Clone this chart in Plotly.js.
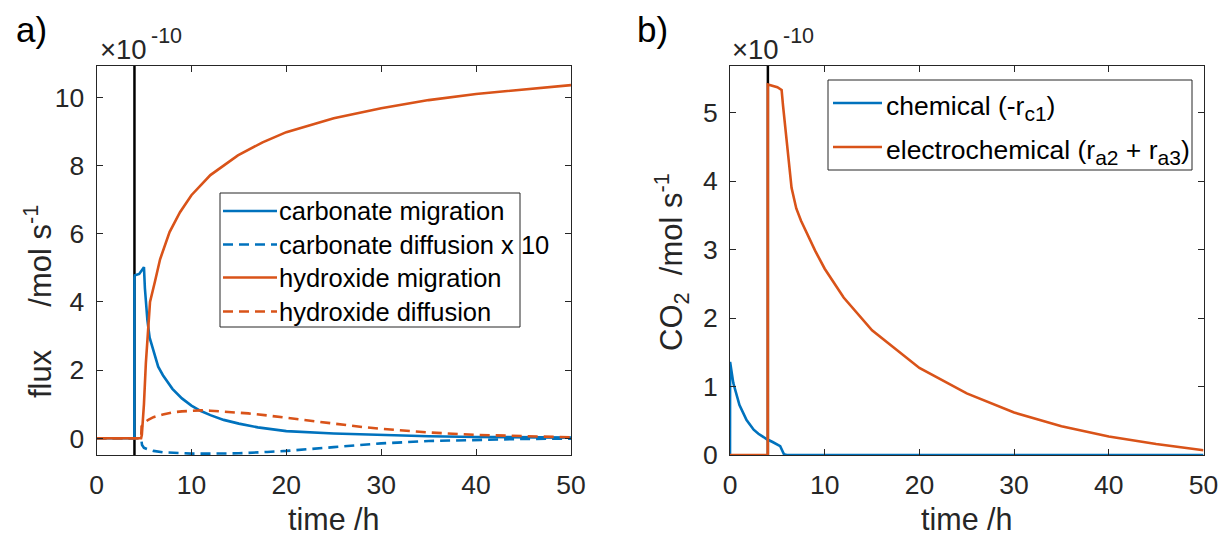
<!DOCTYPE html>
<html>
<head>
<meta charset="utf-8">
<script src="https://cdn.plot.ly/plotly-3.0.1.min.js"></script>
<style>html,body{margin:0;padding:0;background:#fff;}#chart{width:1223px;height:538px;}</style>
</head>
<body>
<div id="chart"></div>
<script>
// ---------- data (panel a: flux, units 1e-10 mol/s) ----------
const carbMigT = [0, 3.99, 4.0, 4.05, 4.5, 4.85, 5.0, 5.1, 5.36, 5.6, 6.0, 6.5, 7, 8, 9, 10, 11, 12, 13.4, 15, 17, 20, 25, 30, 35, 40, 45, 50];
const carbMigV = [0, 0, 4.7, 4.78, 4.82, 4.95, 5.02, 4.4, 3.47, 2.95, 2.55, 2.1, 1.85, 1.45, 1.17, 0.96, 0.8, 0.68, 0.54, 0.43, 0.32, 0.21, 0.14, 0.09, 0.06, 0.04, 0.03, 0.02];

const carbDifT = [0, 4.7, 4.8, 5, 5.5, 6, 7, 8, 10, 12, 15, 18, 20, 25, 30, 35, 40, 45, 50];
const carbDifV = [0, 0, -0.2, -0.28, -0.33, -0.37, -0.41, -0.43, -0.45, -0.45, -0.44, -0.4, -0.37, -0.26, -0.15, -0.08, -0.04, -0.02, -0.01];

const hydMigT = [0, 4.7, 4.78, 5.0, 5.2, 5.43, 5.64, 6.16, 6.7, 7.7, 8.8, 10, 12, 14.9, 17.5, 20, 25, 30, 35, 40, 45, 50];
const hydMigV = [0, 0, 0.1, 1.0, 2.2, 3.17, 4.0, 4.6, 5.25, 6.05, 6.63, 7.13, 7.72, 8.3, 8.68, 8.98, 9.39, 9.68, 9.92, 10.1, 10.24, 10.36];

const hydDifT = [0, 4.7, 4.75, 5, 5.5, 6, 7, 8, 9, 10, 11, 12, 14, 16, 18, 20, 22, 25, 28, 30, 35, 40, 45, 50];
const hydDifV = [0, 0, 0.35, 0.45, 0.55, 0.62, 0.7, 0.76, 0.79, 0.81, 0.82, 0.81, 0.78, 0.73, 0.67, 0.6, 0.53, 0.43, 0.33, 0.28, 0.17, 0.1, 0.06, 0.03];

// ---------- data (panel b: CO2, units 1e-10 mol/s) ----------
const chemT = [0, 0.01, 0.35, 1, 1.75, 2.5, 3, 3.9, 4.5, 5.0, 5.3, 5.5, 5.7, 6, 50];
const chemV = [0, 1.36, 1.05, 0.73, 0.51, 0.37, 0.31, 0.23, 0.19, 0.15, 0.13, 0.07, 0.01, 0, 0];

const elecT = [0, 3.99, 4.0, 4.5, 5.0, 5.45, 5.6, 6.5, 7.0, 7.5, 8, 9, 10, 12, 15, 20, 25, 30, 35, 40, 45, 50];
const elecV = [0, 0, 5.41, 5.39, 5.37, 5.33, 5.1, 3.9, 3.6, 3.42, 3.27, 2.98, 2.72, 2.3, 1.82, 1.27, 0.9, 0.62, 0.42, 0.27, 0.16, 0.07];

const eventTime = 4;           // vertical marker (h)
const xTicks = [0, 10, 20, 30, 40, 50];
const yTicksA = [0, 2, 4, 6, 8, 10];
const yTicksB = [0, 1, 2, 3, 4, 5];

const SUB = s => '<sub><span style="font-size:21px">' + s + '</span></sub>';
const namesA = ['carbonate migration', 'carbonate diffusion x 10', 'hydroxide migration', 'hydroxide diffusion'];
const namesB = ['chemical (-r' + SUB('c1') + ')', 'electrochemical (r' + SUB('a2') + ' + r' + SUB('a3') + ')'];

// ---------- style ----------
const BLUE = '#0072BD', ORANGE = '#D95319', AX = '#262626';
const FONT = 'Liberation Sans, Arial, Helvetica, sans-serif';
const LW = 2.6;
const DASH = '10px,6px';
const colorsA = [BLUE, BLUE, ORANGE, ORANGE];
const dashesA = ['solid', DASH, 'solid', DASH];
const colorsB = [BLUE, ORANGE];

const seriesA = [[carbMigT, carbMigV], [carbDifT, carbDifV], [hydMigT, hydMigV], [hydDifT, hydDifV]];
const seriesB = [[chemT, chemV], [elecT, elecV]];

const traces = [];
seriesA.forEach((s, i) => traces.push({x: s[0], y: s[1], name: namesA[i], mode: 'lines',
  line: {color: colorsA[i], width: LW, dash: dashesA[i]}, xaxis: 'x', yaxis: 'y', showlegend: false}));
seriesB.forEach((s, i) => traces.push({x: s[0], y: s[1], name: namesB[i], mode: 'lines',
  line: {color: colorsB[i], width: LW}, xaxis: 'x2', yaxis: 'y2', showlegend: false}));

const W = 1223, H = 538;
const px = v => v / W, py = v => 1 - v / H;

function axisBase(extra) {
  return Object.assign({
    showline: true, linecolor: AX, linewidth: 1, mirror: 'ticks',
    ticks: 'inside', ticklen: 6, tickwidth: 1, tickcolor: AX,
    showgrid: false, zeroline: false, fixedrange: true,
    tickfont: {family: FONT, size: 26.5, color: AX}
  }, extra);
}

const shapes = [
  {type: 'line', xref: 'x', yref: 'y domain', x0: eventTime, x1: eventTime, y0: 0, y1: 1, line: {color: '#000', width: 2.5}, layer: 'below'},
  {type: 'line', xref: 'x2', yref: 'y2 domain', x0: eventTime, x1: eventTime, y0: 0, y1: 1, line: {color: '#000', width: 2.5}, layer: 'below'}
];
const annotations = [];

// custom legend builder (paper pixel coordinates)
function addLegend(box, rows, lineX0, lineX1, textX, names, colors, dashes, textDy, fs) {
  shapes.push({type: 'rect', xref: 'paper', yref: 'paper', x0: px(box[0]), x1: px(box[2]), y0: py(box[1]), y1: py(box[3]),
    line: {color: AX, width: 1}, fillcolor: '#fff', layer: 'above'});
  rows.forEach((ry, i) => {
    shapes.push({type: 'line', xref: 'paper', yref: 'paper', x0: px(lineX0), x1: px(lineX1), y0: py(ry), y1: py(ry),
      line: {color: colors[i], width: 2.5, dash: dashes[i]}, layer: 'above'});
    annotations.push({text: names[i], xref: 'paper', yref: 'paper', x: px(textX), y: py(ry + textDy[i]), xanchor: 'left', yanchor: 'middle',
      showarrow: false, borderpad: 0, font: {family: FONT, size: fs, color: '#000'}});
  });
}
addLegend([220, 193, 520, 327], [211, 244.5, 277.5, 311.5], 223, 277, 278, namesA, colorsA, dashesA, [0, 0, 0, 0], 25.5);
addLegend([828, 80, 1192, 170], [103, 147], 833, 882, 885, namesB, colorsB, ['solid', 'solid'], [5, 5], 26.5);

annotations.push(
  {text: 'a)', xref: 'paper', yref: 'paper', x: px(14), y: py(29), xanchor: 'left', yanchor: 'middle', showarrow: false, font: {family: FONT, size: 35, color: '#000'}},
  {text: 'b)', xref: 'paper', yref: 'paper', x: px(635), y: py(29), xanchor: 'left', yanchor: 'middle', showarrow: false, font: {family: FONT, size: 35, color: '#000'}},
  {text: '×10', xref: 'paper', yref: 'paper', x: px(99), y: py(49), xanchor: 'left', yanchor: 'middle', showarrow: false, borderpad: 0, font: {family: FONT, size: 27.5, color: AX}},
  {text: '-10', xref: 'paper', yref: 'paper', x: px(150), y: py(36), xanchor: 'left', yanchor: 'middle', showarrow: false, borderpad: 0, font: {family: FONT, size: 21.5, color: AX}},
  {text: '×10', xref: 'paper', yref: 'paper', x: px(731), y: py(49), xanchor: 'left', yanchor: 'middle', showarrow: false, borderpad: 0, font: {family: FONT, size: 27.5, color: AX}},
  {text: '-10', xref: 'paper', yref: 'paper', x: px(782), y: py(36), xanchor: 'left', yanchor: 'middle', showarrow: false, borderpad: 0, font: {family: FONT, size: 21.5, color: AX}},
  {text: 'time /h', xref: 'x domain', yref: 'paper', x: 0.5, y: py(519), xanchor: 'center', yanchor: 'middle', showarrow: false, borderpad: 0, font: {family: FONT, size: 30.5, color: AX}},
  {text: 'time /h', xref: 'x2 domain', yref: 'paper', x: 0.5, y: py(519), xanchor: 'center', yanchor: 'middle', showarrow: false, borderpad: 0, font: {family: FONT, size: 30.5, color: AX}},
  {text: 'flux\u00a0\u00a0\u00a0\u00a0\u00a0/mol s<sup>-1</sup>', xref: 'paper', yref: 'paper', x: px(38), y: py(302), xanchor: 'center', yanchor: 'middle', textangle: -90, showarrow: false, font: {family: FONT, size: 31, color: AX}},
  {text: 'CO<sub>2</sub>\u00a0\u00a0/mol s<sup>-1</sup>', xref: 'paper', yref: 'paper', x: px(671), y: py(262), xanchor: 'center', yanchor: 'middle', textangle: -90, showarrow: false, font: {family: FONT, size: 31, color: AX}}
);

const layout = {
  width: W, height: H,
  margin: {l: 0, r: 0, t: 0, b: 0},
  paper_bgcolor: '#fff', plot_bgcolor: '#fff',
  font: {family: FONT, color: AX},
  showlegend: false,
  xaxis: axisBase({domain: [px(96.5), px(571)], range: [0, 50], tickvals: xTicks, anchor: 'y', ticklabelstandoff: 6}),
  yaxis: axisBase({domain: [py(455), py(66)], range: [-0.49, 10.92], tickvals: yTicksA, anchor: 'x', ticklabelstandoff: 6}),
  xaxis2: axisBase({domain: [px(730), px(1203.5)], range: [0, 50], tickvals: xTicks, anchor: 'y2', ticklabelstandoff: 6}),
  yaxis2: axisBase({domain: [py(455), py(66)], range: [0, 5.68], tickvals: yTicksB, anchor: 'x2', ticklabelstandoff: 6}),
  shapes: shapes,
  annotations: annotations
};

Plotly.newPlot('chart', traces, layout, {displayModeBar: false, staticPlot: true});
</script>
</body>
</html>
